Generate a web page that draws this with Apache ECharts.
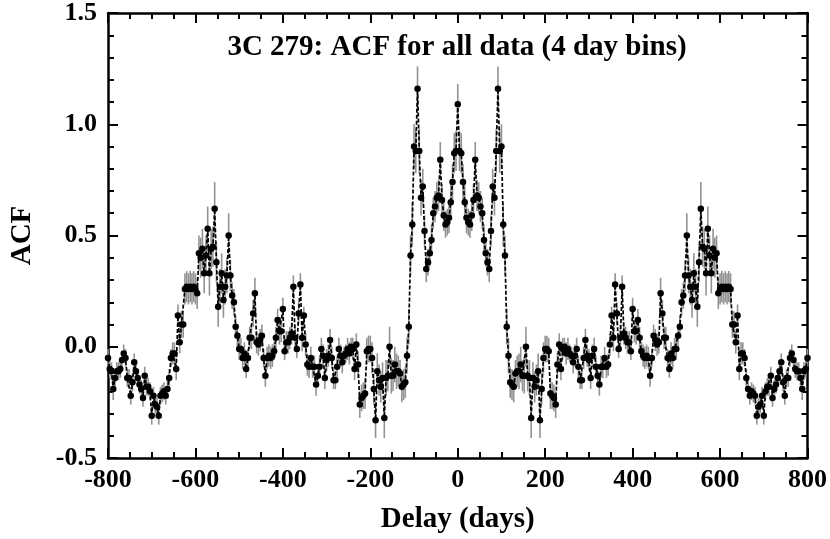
<!DOCTYPE html>
<html><head><meta charset="utf-8">
<script src="https://cdn.jsdelivr.net/npm/echarts@6/dist/echarts.min.js"></script>
<style>html,body{margin:0;padding:0;background:#fff}#c{width:830px;height:539px}</style>
</head><body><div id="c"></div>
<script>
// 3C 279 ACF, 4-day bins, lags -800 .. 800
const binDays = 4;
const lagMin = -800;
// lags -800 .. -4
const acfNeg = [
-0.05,-0.10,-0.11,-0.19,-0.14,-0.11,-0.11,-0.10,-0.06,-0.03,
-0.05,-0.14,-0.14,-0.22,-0.16,-0.07,-0.11,-0.14,-0.17,-0.19,
-0.23,-0.13,-0.18,-0.18,-0.20,-0.31,-0.22,-0.26,-0.27,-0.31,
-0.22,-0.21,-0.20,-0.22,-0.19,-0.14,-0.05,-0.03,-0.03,-0.10,
0.14,0.02,0.10,0.10,0.26,0.27,0.26,0.27,0.26,0.27,
0.26,0.24,0.42,0.40,0.44,0.33,0.41,0.53,0.33,0.44,
0.45,0.62,0.38,0.18,0.27,0.33,0.21,0.27,0.32,0.50,
0.32,0.23,0.20,0.09,0.05,-0.01,-0.01,-0.05,-0.03,-0.10,
-0.05,0.04,0.04,0.15,0.24,0.02,0.01,0.03,0.05,-0.05,
-0.13,-0.05,-0.04,-0.05,-0.04,-0.02,0.04,0.12,0.07,0.07,
0.17,-0.02,0.02,0.02,0.04,0.06,0.27,0.04,-0.01,0.15,
0.28,0.04,0.14,0.01,-0.08,-0.09,-0.05,-0.09,-0.09,-0.17,
-0.13,-0.09,-0.01,-0.04,-0.14,-0.06,-0.04,0.03,-0.05,-0.15,
-0.15,-0.09,-0.01,-0.04,-0.07,-0.04,-0.03,-0.01,-0.03,0.00,
-0.01,-0.10,0.01,-0.08,-0.26,-0.23,-0.22,-0.21,-0.02,-0.01,
-0.01,-0.05,-0.19,-0.33,-0.11,-0.15,-0.18,-0.14,-0.32,-0.14,
-0.13,0.00,-0.13,-0.13,-0.08,-0.11,-0.11,-0.12,-0.18,-0.17,
-0.16,-0.04,0.09,0.41,0.55,0.90,0.88,1.16,0.88,0.67,
0.72,0.52,0.35,0.38,0.42,0.48,0.60,0.63,0.67,0.68,
0.84,0.66,0.59,0.55,0.56,0.58,0.65,0.74,0.87,0.88
];
// lags 0 .. 800
const acfPos = [
1.09,0.88,0.87,0.74,0.65,0.58,0.56,0.55,0.59,0.66,
0.84,0.68,0.67,0.63,0.60,0.48,0.42,0.38,0.35,0.52,
0.72,0.67,0.88,1.16,0.88,0.90,0.55,0.41,0.09,-0.04,
-0.16,-0.17,-0.18,-0.12,-0.11,-0.11,-0.08,-0.13,-0.13,0.00,
-0.13,-0.14,-0.32,-0.14,-0.18,-0.15,-0.11,-0.33,-0.19,-0.05,
-0.01,-0.01,-0.02,-0.21,-0.22,-0.23,-0.26,-0.08,0.01,-0.10,
-0.01,0.00,-0.03,-0.01,-0.03,-0.04,-0.07,-0.04,-0.01,-0.09,
-0.15,-0.15,-0.05,0.03,-0.04,-0.06,-0.14,-0.04,-0.01,-0.09,
-0.13,-0.17,-0.09,-0.09,-0.05,-0.09,-0.08,0.01,0.14,0.04,
0.28,0.15,-0.01,0.04,0.27,0.06,0.04,0.02,0.02,-0.02,
0.17,0.07,0.07,0.12,0.04,-0.02,-0.04,-0.05,-0.04,-0.05,
-0.13,-0.05,0.05,0.03,0.01,0.02,0.24,0.15,0.04,0.04,
-0.05,-0.10,-0.03,-0.05,-0.01,-0.01,0.05,0.09,0.20,0.23,
0.32,0.50,0.32,0.27,0.21,0.33,0.27,0.18,0.38,0.62,
0.45,0.44,0.33,0.53,0.41,0.33,0.44,0.40,0.42,0.24,
0.26,0.27,0.26,0.27,0.26,0.27,0.26,0.10,0.10,0.02,
0.14,-0.10,-0.03,-0.03,-0.05,-0.14,-0.19,-0.22,-0.20,-0.21,
-0.22,-0.31,-0.27,-0.26,-0.22,-0.31,-0.20,-0.18,-0.18,-0.13,
-0.23,-0.19,-0.17,-0.14,-0.11,-0.07,-0.16,-0.22,-0.14,-0.14,
-0.05,-0.03,-0.06,-0.10,-0.11,-0.11,-0.14,-0.19,-0.11,-0.10,
-0.05
];
// 1-sigma errors, lags -800 .. -4
const errNeg = [
0.04,0.04,0.04,0.05,0.04,0.04,0.04,0.04,0.04,0.04,
0.04,0.04,0.04,0.04,0.04,0.04,0.04,0.04,0.04,0.04,
0.04,0.04,0.04,0.04,0.04,0.04,0.04,0.04,0.04,0.04,
0.04,0.04,0.04,0.04,0.04,0.04,0.04,0.05,0.05,0.05,
0.05,0.05,0.06,0.06,0.07,0.07,0.07,0.07,0.07,0.07,
0.07,0.07,0.08,0.09,0.09,0.09,0.09,0.10,0.10,0.09,
0.09,0.12,0.09,0.09,0.08,0.09,0.08,0.08,0.08,0.10,
0.07,0.06,0.06,0.05,0.05,0.05,0.05,0.05,0.05,0.04,
0.04,0.05,0.05,0.06,0.07,0.05,0.05,0.05,0.05,0.04,
0.05,0.05,0.05,0.05,0.05,0.04,0.05,0.05,0.06,0.05,
0.05,0.04,0.05,0.05,0.05,0.05,0.05,0.06,0.04,0.05,
0.05,0.06,0.04,0.05,0.05,0.05,0.05,0.05,0.05,0.05,
0.05,0.05,0.05,0.05,0.05,0.05,0.05,0.05,0.05,0.04,
0.04,0.05,0.05,0.05,0.05,0.04,0.04,0.05,0.05,0.04,
0.05,0.05,0.05,0.06,0.06,0.06,0.06,0.07,0.06,0.06,
0.06,0.07,0.07,0.08,0.08,0.07,0.07,0.07,0.09,0.08,
0.07,0.09,0.08,0.07,0.08,0.08,0.07,0.06,0.07,0.07,
0.07,0.08,0.08,0.09,0.10,0.10,0.10,0.10,0.10,0.08,
0.08,0.07,0.06,0.06,0.06,0.07,0.07,0.07,0.07,0.07,
0.08,0.07,0.07,0.06,0.06,0.07,0.08,0.08,0.09,0.09
];
// 1-sigma errors, lags 0 .. 800
const errPos = [
0.09,0.09,0.09,0.08,0.08,0.07,0.06,0.06,0.07,0.07,
0.08,0.07,0.07,0.07,0.07,0.07,0.06,0.06,0.06,0.07,
0.08,0.08,0.10,0.10,0.10,0.10,0.10,0.09,0.08,0.08,
0.07,0.07,0.07,0.06,0.07,0.08,0.08,0.07,0.08,0.09,
0.07,0.08,0.09,0.07,0.07,0.07,0.08,0.08,0.07,0.07,
0.06,0.06,0.06,0.07,0.06,0.06,0.06,0.06,0.05,0.05,
0.05,0.04,0.05,0.05,0.04,0.04,0.05,0.05,0.05,0.05,
0.04,0.04,0.05,0.05,0.05,0.05,0.05,0.05,0.05,0.05,
0.05,0.05,0.05,0.05,0.05,0.05,0.05,0.05,0.04,0.06,
0.05,0.05,0.04,0.06,0.05,0.05,0.05,0.05,0.05,0.04,
0.05,0.05,0.06,0.05,0.05,0.04,0.05,0.05,0.05,0.05,
0.05,0.04,0.05,0.05,0.05,0.05,0.07,0.06,0.05,0.05,
0.04,0.04,0.05,0.05,0.05,0.05,0.05,0.05,0.06,0.06,
0.07,0.10,0.08,0.08,0.08,0.09,0.08,0.09,0.09,0.12,
0.09,0.09,0.10,0.10,0.09,0.09,0.09,0.09,0.08,0.07,
0.07,0.07,0.07,0.07,0.07,0.07,0.07,0.06,0.06,0.05,
0.05,0.05,0.05,0.05,0.04,0.04,0.04,0.04,0.04,0.04,
0.04,0.04,0.04,0.04,0.04,0.04,0.04,0.04,0.04,0.04,
0.04,0.04,0.04,0.04,0.04,0.04,0.04,0.04,0.04,0.04,
0.04,0.04,0.04,0.04,0.04,0.04,0.04,0.05,0.04,0.04,
0.04
];
const xTickLabels = ['-800','-600','-400','-200','0','200','400','600','800'];
const yTickLabels = ['-0.5','0.0','0.5','1.0','1.5'];
const titleText = '3C 279: ACF for all data (4 day bins)';
const xName = 'Delay (days)';
const yName = 'ACF';

const acf = acfNeg.concat(acfPos);
const err = errNeg.concat(errPos);
const lags = acf.map((_, i) => lagMin + i * binDays);
const points = lags.map((l, i) => [l, acf[i]]);
const bars = lags.map((l, i) => [l, acf[i] - err[i], acf[i] + err[i]]);

const FONT = '"Liberation Serif", "Times New Roman", serif';
const axisLineStyle = { color: '#000', width: 2.5 };
const tickStyle = { color: '#000', width: 2 };

function xAxisCfg(pos, showLabels) {
  return {
    type: 'value', position: pos, min: -800, max: 800, interval: 200,
    axisLine: { show: true, onZero: false, lineStyle: axisLineStyle },
    axisTick: { show: true, inside: true, length: 10, lineStyle: tickStyle },
    minorTick: { show: true, splitNumber: 4, length: 6, lineStyle: tickStyle },
    splitLine: { show: false }, minorSplitLine: { show: false },
    axisLabel: {
      show: showLabels, margin: 9, color: '#000', fontFamily: FONT, fontSize: 26, fontWeight: 'bold',
      formatter: v => { const k = Math.round((v + 800) / 200); return xTickLabels[k] !== undefined ? xTickLabels[k] : ''; }
    },
    name: showLabels ? xName : '', nameLocation: 'middle', nameGap: 47,
    nameTextStyle: { color: '#000', fontFamily: FONT, fontSize: 29, fontWeight: 'bold' }
  };
}
function yAxisCfg(pos, showLabels) {
  return {
    type: 'value', position: pos, min: -0.5, max: 1.5, interval: 0.5,
    axisLine: { show: true, onZero: false, lineStyle: axisLineStyle },
    axisTick: { show: true, inside: true, length: 10, lineStyle: tickStyle },
    minorTick: { show: true, splitNumber: 5, length: 6, lineStyle: tickStyle },
    splitLine: { show: false }, minorSplitLine: { show: false },
    axisLabel: {
      show: showLabels, margin: 11, color: '#000', fontFamily: FONT, fontSize: 26, fontWeight: 'bold',
      formatter: v => { const k = Math.round((v + 0.5) / 0.5); return yTickLabels[k] !== undefined ? yTickLabels[k] : ''; }
    },
    name: showLabels ? yName : '', nameLocation: 'middle', nameGap: 71, nameRotate: 90,
    nameTextStyle: { color: '#000', fontFamily: FONT, fontSize: 29, fontWeight: 'bold' }
  };
}

const chart = echarts.init(document.getElementById('c'), null, { renderer: 'canvas' });
chart.setOption({
  animation: false,
  backgroundColor: '#fff',
  grid: { left: 104, right: 19, top: 12, bottom: 79 },
  xAxis: [xAxisCfg('bottom', true), xAxisCfg('top', false)],
  yAxis: [yAxisCfg('left', true), yAxisCfg('right', false)],
  graphic: [{
    type: 'text', x: 457, y: 48, z: 100,
    style: { text: titleText, fill: '#000', fontFamily: FONT, fontSize: 29, fontWeight: 'bold', align: 'center', verticalAlign: 'middle' }
  }],
  series: [
    {
      type: 'custom', xAxisIndex: 0, yAxisIndex: 0, clip: true, z: 1,
      data: bars, encode: { x: 0, y: [1, 2] },
      renderItem: (params, api) => {
        const x = api.value(0);
        const p1 = api.coord([x, api.value(1)]);
        const p2 = api.coord([x, api.value(2)]);
        return { type: 'line', shape: { x1: p1[0], y1: p1[1], x2: p2[0], y2: p2[1] },
                 style: { stroke: '#929292', lineWidth: 1.6 } };
      }
    },
    {
      type: 'line', xAxisIndex: 0, yAxisIndex: 0, z: 2, data: points,
      showSymbol: true, showAllSymbol: true, symbol: 'circle', symbolSize: 6.5,
      itemStyle: { color: '#000' },
      lineStyle: { color: '#000', width: 1.7, type: [4, 2] },
      emphasis: { disabled: true }
    }
  ]
});
</script></body></html>
